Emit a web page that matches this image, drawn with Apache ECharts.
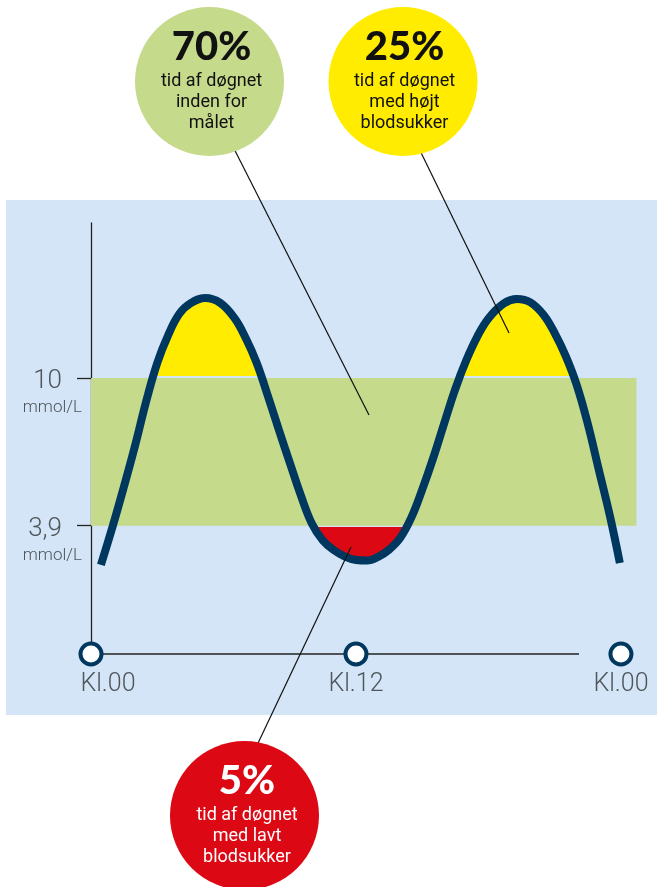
<!DOCTYPE html>
<html>
<head>
<meta charset="utf-8">
<script src="https://cdn.jsdelivr.net/npm/echarts@6/dist/echarts.min.js"></script>
<style>
  html, body { margin: 0; padding: 0; background: #ffffff; }
  #chart { width: 657px; height: 887px; }
</style>
</head>
<body>
<div id="chart"></div>
<script>
// Blood glucose through one day: hours since midnight and mmol/L
const hours = [0.45, 1, 1.5, 2, 2.5, 3, 3.5, 4, 4.5, 5.17, 5.85, 6.5, 7, 7.5, 8, 8.5, 9, 9.5, 10,
  10.5, 11, 11.5, 12, 12.5, 13, 13.5, 14, 14.5, 15, 15.5, 16, 16.5, 17, 17.5, 18, 18.7, 19.29,
  19.9, 20.5, 21, 21.5, 22, 22.5, 23, 23.5, 23.95];
const glucose = [2.28, 3.93, 5.54, 7.22, 9.04, 10.62, 11.78, 12.65, 13.08, 13.3, 13.1, 12.47, 11.66,
  10.63, 9.29, 7.88, 6.51, 5.16, 3.99, 3.29, 2.89, 2.62, 2.48, 2.46, 2.61, 2.91, 3.39, 4.22, 5.39,
  6.7, 8.14, 9.55, 10.74, 11.72, 12.46, 13.08, 13.26, 13.12, 12.6, 11.85, 10.9, 9.7, 8.1, 6.2,
  4.3, 2.36];

// Target range
const targetLow = 3.9;
const targetHigh = 10;

// Value axis ticks
const yTickValues = [3.9, 10];
const yTickLabels = ['3,9', '10'];
const yUnit = 'mmol/L';

// Clock marks along the time axis
const clockValues = [0, 12, 24];
const clockLabels = ['Kl.00', 'Kl.12', 'Kl.00'];

// Shares of the day
const calloutShares = ['70%', '25%', '5%'];
const calloutTexts = [
  ['tid af døgnet', 'inden for', 'målet'],
  ['tid af døgnet', 'med højt', 'blodsukker'],
  ['tid af døgnet', 'med lavt', 'blodsukker']
];

// Axis extents
const xMin = 0, xMax = 24.7;
const yMin = -1.4, yMax = 16.4;
const baseLineEnd = 22.1;

const NAVY = '#00375f';
const BLUE_BG = '#d3e5f6';
const GREEN = '#c5da8b';
const YELLOW = '#ffec00';
const RED = '#dc0814';
const TEXT_GREY = '#4f555b';
const CLEAR = 'rgba(0,0,0,0)';

const curve = hours.map((h, i) => [h, glucose[i]]);
const lowStretch = curve.filter(p => p[0] > 8.5 && p[0] < 16);

const chart = echarts.init(document.getElementById('chart'), null, { renderer: 'canvas' });

function bubble(cx, cy, fill, textColor, share, lines, tx) {
  return [
    { type: 'circle', z: 120, shape: { cx: cx, cy: cy, r: 74.5 }, style: { fill: fill } },
    {
      type: 'text', z: 121,
      style: {
        text: share, x: tx, y: cy - 34.5,
        align: 'center', verticalAlign: 'middle',
        textAlign: 'center', textVerticalAlign: 'middle',
        font: '900 40px Lato, Roboto, "Noto Sans", sans-serif',
        fill: textColor
      }
    },
    {
      type: 'text', z: 121,
      style: {
        text: lines.join('\n'), x: tx, y: cy + 20.5,
        align: 'center', verticalAlign: 'middle',
        textAlign: 'center', textVerticalAlign: 'middle',
        font: '400 18px Roboto, "Noto Sans", sans-serif',
        lineHeight: 21,
        fill: textColor
      }
    }
  ];
}

function leader(x1, y1, x2, y2) {
  return {
    type: 'line', z: 110,
    shape: { x1: x1, y1: y1, x2: x2, y2: y2 },
    style: { stroke: '#111111', lineWidth: 1.2 }
  };
}

const option = {
  animation: false,
  backgroundColor: '#ffffff',
  grid: { left: 91, right: 20.6, top: 223, bottom: 233, containLabel: false },
  xAxis: {
    type: 'value', min: xMin, max: xMax,
    axisLine: { show: false }, axisTick: { show: false },
    axisLabel: { show: false }, splitLine: { show: false }
  },
  yAxis: {
    type: 'value', min: yMin, max: yMax,
    axisLine: { show: true, lineStyle: { color: '#222222', width: 1.3 } },
    axisTick: { show: true, customValues: yTickValues, length: 14, lineStyle: { color: '#222222', width: 1.3 } },
    splitLine: { show: false },
    axisLabel: {
      show: true,
      customValues: yTickValues,
      margin: 9,
      formatter: function (v) {
        const i = yTickValues.indexOf(v);
        return '{e| }\n{n|' + yTickLabels[i] + '}\n{u|' + yUnit + '}';
      },
      rich: {
        e: { fontSize: 17, lineHeight: 38 },
        n: {
          fontSize: 26, lineHeight: 22, fontWeight: 300, fontFamily: 'Roboto',
          color: TEXT_GREY, align: 'right', padding: [0, 20, 0, 0]
        },
        u: {
          fontSize: 17, lineHeight: 30, fontWeight: 300, fontFamily: 'Roboto',
          color: TEXT_GREY, align: 'right'
        }
      }
    }
  },
  visualMap: [
    {
      type: 'piecewise', show: false, seriesIndex: 1, dimension: 1,
      pieces: [
        { gt: -40, lte: targetHigh + 0.08, color: CLEAR },
        { gt: targetHigh + 0.08, lte: 40, color: YELLOW }
      ],
      outOfRange: { color: CLEAR }
    },
    {
      type: 'piecewise', show: false, seriesIndex: 2, dimension: 1,
      pieces: [
        { gt: -40, lte: targetLow - 0.05, color: RED },
        { gt: targetLow - 0.05, lte: 40, color: CLEAR }
      ],
      outOfRange: { color: CLEAR }
    }
  ],
  series: [
    {
      // target band
      type: 'line', data: [], z: 1, silent: true,
      markArea: {
        silent: true,
        itemStyle: { color: GREEN },
        data: [[{ xAxis: xMin, yAxis: targetLow }, { xAxis: xMax, yAxis: targetHigh }]]
      }
    },
    {
      // high glucose fill
      type: 'line', data: curve, smooth: 0.4, symbol: 'none', z: 2, silent: true,
      lineStyle: { width: 0 },
      areaStyle: { origin: 'start', opacity: 1 }
    },
    {
      // low glucose fill
      type: 'line', data: lowStretch, smooth: 0.4, symbol: 'none', z: 2, silent: true,
      lineStyle: { width: 0 },
      areaStyle: { origin: 'end', opacity: 1 }
    },
    {
      // glucose curve
      type: 'line', data: curve, smooth: 0.4, symbol: 'none', z: 3, silent: true,
      lineStyle: { color: NAVY, width: 8, cap: 'butt' }
    },
    {
      // time base line
      type: 'line', data: [[xMin, yMin], [baseLineEnd, yMin]], symbol: 'none', z: 3, silent: true,
      clip: false,
      lineStyle: { color: '#222222', width: 1.3 }
    },
    {
      // clock marks
      type: 'scatter', z: 4, silent: true, clip: false,
      symbol: 'circle', symbolSize: 21,
      itemStyle: { color: '#ffffff', borderColor: NAVY, borderWidth: 4, opacity: 1 },
      data: clockValues.map((h, i) => ({
        value: [h, yMin],
        label: i === 0 ? { offset: [17, 0] } : {}
      })),
      label: {
        show: true, position: 'bottom', distance: 6,
        formatter: p => clockLabels[p.dataIndex],
        fontFamily: 'Roboto', fontWeight: 300, fontSize: 25, color: TEXT_GREY
      }
    }
  ],
  graphic: [
    { type: 'rect', z: -10, shape: { x: 6, y: 200, width: 651, height: 515 }, style: { fill: BLUE_BG } },
    leader(222, 125, 369, 415),
    leader(410, 130, 509, 333),
    leader(351, 547, 250, 760)
  ].concat(
    bubble(209.5, 81.5, GREEN, '#111111', calloutShares[0], calloutTexts[0], 211.5),
    bubble(403, 81.5, YELLOW, '#111111', calloutShares[1], calloutTexts[1], 404.5),
    bubble(244.5, 815.5, RED, '#ffffff', calloutShares[2], calloutTexts[2], 247)
  )
};

chart.setOption(option);
</script>
</body>
</html>
